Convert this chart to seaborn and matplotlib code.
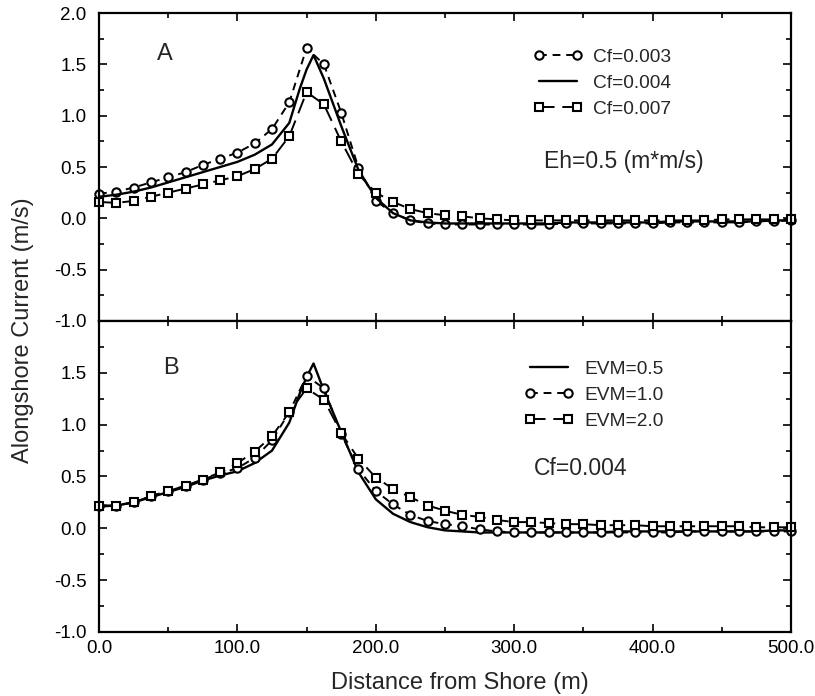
import numpy as np
import matplotlib
matplotlib.use("Agg")
import matplotlib.pyplot as plt
import matplotlib.ticker as mticker
import seaborn as sns

sns.set_style("ticks")
plt.rcParams["font.family"] = ["Liberation Sans", "DejaVu Sans"]

# ── data ─────────────────────────────────────────────────────────────
# marked points every 12.5 m
x_pts = np.arange(0, 500.1, 12.5)
# solid curves: same grid plus a few vertices near the peak
x_solid = list(x_pts[:12]) + [145, 150, 155] + list(x_pts[13:])

# Panel A: Eh = 0.5
cf003 = [0.24, 0.26, 0.30, 0.35, 0.40, 0.45, 0.52, 0.58, 0.64, 0.73, 0.87,
         1.13, 1.66, 1.50, 1.03, 0.49, 0.17, 0.05, -0.02, -0.05, -0.06,
         -0.06, -0.06, -0.06, -0.06, -0.06, -0.06, -0.05, -0.05, -0.05, -0.05,
         -0.05, -0.05, -0.04, -0.04, -0.04, -0.04, -0.04, -0.03, -0.03, -0.02]
cf004 = [0.21, 0.23, 0.26, 0.30, 0.35, 0.40, 0.45, 0.50, 0.55, 0.62, 0.72,
         0.93, 1.26, 1.45, 1.59,
         1.36, 0.90, 0.47, 0.20, 0.05, -0.02, -0.04, -0.05, -0.05, -0.05,
         -0.05, -0.05, -0.05, -0.05, -0.04, -0.04, -0.04, -0.04, -0.04, -0.04,
         -0.03, -0.03, -0.03, -0.03, -0.03, -0.03, -0.02, -0.02]
cf007 = [0.16, 0.15, 0.17, 0.21, 0.25, 0.29, 0.33, 0.37, 0.41, 0.48, 0.58,
         0.80, 1.23, 1.11, 0.75, 0.43, 0.25, 0.16, 0.09, 0.05, 0.03,
         0.02, 0.00, -0.01, -0.02, -0.02, -0.02, -0.02, -0.02, -0.02, -0.02,
         -0.02, -0.02, -0.02, -0.02, -0.02, -0.01, -0.01, -0.01, -0.01, -0.01]

# Panel B: Cf = 0.004
evm05 = [0.21, 0.22, 0.25, 0.30, 0.35, 0.40, 0.46, 0.51, 0.55, 0.63, 0.75,
         1.02, 1.30, 1.46, 1.59,
         1.33, 0.93, 0.54, 0.28, 0.14, 0.06, 0.01, -0.02, -0.03, -0.04,
         -0.04, -0.04, -0.04, -0.04, -0.04, -0.04, -0.04, -0.03, -0.03, -0.03,
         -0.03, -0.03, -0.03, -0.03, -0.03, -0.03, -0.02, -0.02]
evm10 = [0.22, 0.22, 0.25, 0.31, 0.36, 0.41, 0.47, 0.53, 0.58, 0.68, 0.85,
         1.12, 1.47, 1.35, 0.91, 0.57, 0.36, 0.23, 0.13, 0.07, 0.04,
         0.02, -0.01, -0.03, -0.04, -0.04, -0.04, -0.04, -0.04, -0.04, -0.04,
         -0.04, -0.04, -0.04, -0.03, -0.03, -0.03, -0.03, -0.03, -0.03, -0.03]
evm20 = [0.22, 0.22, 0.25, 0.31, 0.36, 0.41, 0.47, 0.54, 0.63, 0.74, 0.89,
         1.12, 1.35, 1.24, 0.92, 0.67, 0.49, 0.38, 0.30, 0.22, 0.17,
         0.13, 0.11, 0.08, 0.06, 0.06, 0.05, 0.04, 0.04, 0.03, 0.03,
         0.03, 0.02, 0.02, 0.02, 0.02, 0.02, 0.02, 0.01, 0.01, 0.01]

FS_TICK = 13.5
FS_LEG = 13.8
FS_NOTE = 16.5

circle_kw = dict(color="black", marker="o", markersize=6, mfc="white",
                 mec="black", mew=1.5, linewidth=1.4, linestyle=(0, (4, 3)),
                 clip_on=False)
square_kw = dict(color="black", marker="s", markersize=5.2, mfc="white",
                 mec="black", mew=1.5, linewidth=1.4, linestyle=(0, (8, 4)),
                 clip_on=False)
solid_kw = dict(color="black", linewidth=1.7, linestyle="-")


def style_axis(ax, hide_top_label=False):
    ax.set_xlim(0, 500)
    ax.set_ylim(-1, 2)
    ax.xaxis.set_major_locator(mticker.MultipleLocator(100))
    ax.xaxis.set_minor_locator(mticker.MultipleLocator(50))
    ax.yaxis.set_major_locator(mticker.MultipleLocator(0.5))
    ax.yaxis.set_minor_locator(mticker.MultipleLocator(0.25))
    ax.xaxis.set_major_formatter(mticker.FormatStrFormatter("%.1f"))
    if hide_top_label:
        ax.yaxis.set_major_formatter(mticker.FuncFormatter(
            lambda v, _: "" if v > 1.9 else f"{v:.1f}"))
    else:
        ax.yaxis.set_major_formatter(mticker.FormatStrFormatter("%.1f"))
    ax.tick_params(which="both", direction="in", top=True, right=True,
                   width=1.2, labelsize=FS_TICK, colors="black")
    ax.tick_params(which="major", length=6)
    ax.tick_params(which="minor", length=3.5)
    ax.tick_params(axis="y", pad=9)
    ax.tick_params(axis="x", pad=6)
    for s in ax.spines.values():
        s.set_linewidth(1.6)
        s.set_color("black")
    ax.set_xlabel("")
    ax.set_ylabel("")


fig = plt.figure(figsize=(8.15, 6.96), dpi=100)
ax_a = fig.add_axes([0.1215, 0.5388, 0.849, 0.4425])
ax_b = fig.add_axes([0.1215, 0.0920, 0.849, 0.4468])

# ── Panel A ──────────────────────────────────────────────────────────
sns.lineplot(x=x_pts, y=cf003, ax=ax_a, label="Cf=0.003", **circle_kw)
sns.lineplot(x=x_solid, y=cf004, ax=ax_a, label="Cf=0.004", **solid_kw)
sns.lineplot(x=x_pts, y=cf007, ax=ax_a, label="Cf=0.007", **square_kw)
style_axis(ax_a)
ax_a.tick_params(labelbottom=False)

ax_a.legend(loc="center left", bbox_to_anchor=(0.627, 0.773), frameon=False,
            numpoints=2, handlelength=2.6, handletextpad=0.55,
            labelspacing=0.45, borderpad=0, borderaxespad=0, fontsize=FS_LEG)
ax_a.text(0.0955, 0.866, "A", transform=ax_a.transAxes, fontsize=17,
          ha="center", va="center")
ax_a.text(0.758, 0.517, "Eh=0.5 (m*m/s)", transform=ax_a.transAxes,
          fontsize=FS_NOTE, ha="center", va="center")

# ── Panel B ──────────────────────────────────────────────────────────
sns.lineplot(x=x_solid, y=evm05, ax=ax_b, label="EVM=0.5", **solid_kw)
sns.lineplot(x=x_pts, y=evm10, ax=ax_b, label="EVM=1.0", **circle_kw)
sns.lineplot(x=x_pts, y=evm20, ax=ax_b, label="EVM=2.0", **square_kw)
style_axis(ax_b, hide_top_label=True)

ax_b.legend(loc="center left", bbox_to_anchor=(0.614, 0.762), frameon=False,
            numpoints=2, handlelength=2.6, handletextpad=0.55,
            labelspacing=0.45, borderpad=0, borderaxespad=0, fontsize=FS_LEG)
ax_b.text(0.104, 0.849, "B", transform=ax_b.transAxes, fontsize=17,
          ha="center", va="center")
ax_b.text(0.696, 0.527, "Cf=0.004", transform=ax_b.transAxes,
          fontsize=FS_NOTE, ha="center", va="center")

# shared axis labels
fig.text(23 / 815, 1 - 330 / 696, "Alongshore Current (m/s)", rotation=90,
         ha="center", va="center", fontsize=17)
fig.text(460 / 815, 1 - 683 / 696, "Distance from Shore (m)",
         ha="center", va="center", fontsize=17)

fig.savefig("out.png", dpi=100)
